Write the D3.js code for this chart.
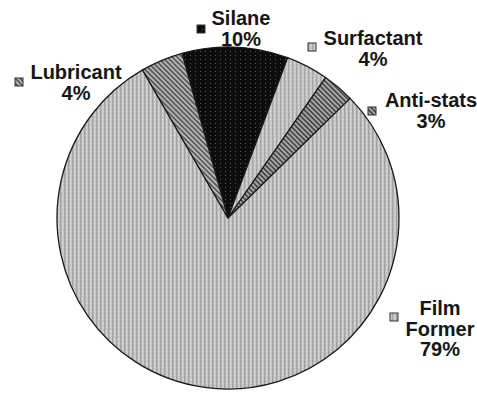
<!DOCTYPE html>
<html lang="en">
<head>
<meta charset="UTF-8">
<title>Pie</title>
<script src="https://cdn.jsdelivr.net/npm/d3@7/dist/d3.min.js"></script>
<style>
  body { margin: 0; background: #fff; }
  text { font-family: "Liberation Sans", Arial, sans-serif; font-weight: bold; fill: #151515; }
</style>
</head>
<body>
<script>
    // data, clockwise from Silane
    const categories = ['Silane', 'Surfactant', 'Anti-stats', 'Film Former', 'Lubricant'];
    const values = [10, 4, 3, 79, 4];
    const labelLines = [['Silane', '10%'], ['Surfactant', '4%'], ['Anti-stats', '3%'], ['Film', 'Former', '79%'], ['Lubricant', '4%']];
    const patterns = ['pSilane', 'pSurf', 'pAnti', 'pFilm', 'pLub'];

    const w = 477, h = 394;
    const cx = 228, cy = 218, r = 171;
    const startAngle = -15.6 * Math.PI / 180;

    const svg = d3.select('body').append('svg')
        .attr('width', w)
        .attr('height', h);

    const defs = svg.append('defs');

    // light grey, vertical dotted texture
    function dotPattern(id, bg, fg, dot) {
        const p = defs.append('pattern').attr('id', id)
            .attr('patternUnits', 'userSpaceOnUse').attr('width', 4).attr('height', 4);
        p.append('rect').attr('width', 4).attr('height', 4).attr('fill', bg);
        p.append('rect').attr('x', 0).attr('width', 1.5).attr('height', 4).attr('fill', fg);
        p.append('rect').attr('x', 2).attr('y', 1).attr('width', 1).attr('height', 1).attr('fill', dot);
    }
    dotPattern('pFilm', '#c8c8c8', '#a3a3a3', '#e2e2e2');
    dotPattern('pSurf', '#c8c8c8', '#a8a8a8', '#e2e2e2');

    // black with faint dots
    const ps = defs.append('pattern').attr('id', 'pSilane')
        .attr('patternUnits', 'userSpaceOnUse').attr('width', 5).attr('height', 4);
    ps.append('rect').attr('width', 5).attr('height', 4).attr('fill', '#0d0d0d');
    ps.append('rect').attr('x', 2).attr('y', 1).attr('width', 1).attr('height', 1).attr('fill', '#555');

    // diagonal hatches
    function hatch(id, bg, fg, size) {
        const p = defs.append('pattern').attr('id', id)
            .attr('patternUnits', 'userSpaceOnUse').attr('width', size).attr('height', size)
            .attr('patternTransform', 'rotate(-45)');
        p.append('rect').attr('width', size).attr('height', size).attr('fill', bg);
        p.append('rect').attr('width', size / 2).attr('height', size).attr('fill', fg);
    }
    hatch('pLub', '#b5b5b5', '#5c5c5c', 3.5);
    hatch('pAnti', '#a8a8a8', '#4a4a4a', 3.5);

    const pie = d3.pie()
        .sort(null)
        .value(d => d)
        .startAngle(startAngle)
        .endAngle(startAngle + 2 * Math.PI);

    const arc = d3.arc().innerRadius(0).outerRadius(r);

    const g = svg.append('g').attr('transform', 'translate(' + cx + ',' + cy + ')');

    g.selectAll('path')
        .data(pie(values))
        .enter()
        .append('path')
        .attr('d', arc)
        .attr('fill', (d, i) => 'url(#' + patterns[i] + ')')
        .attr('stroke', '#1a1a1a')
        .attr('stroke-width', 1.3)
        .attr('stroke-linejoin', 'round');

    // label positions: centre of text block, first baseline, marker
    const labelX = [241, 373, 431, 440, 76];
    const labelY = [25, 45, 107, 315, 79];
    const markerX = [197, 308, 368, 390, 15];
    const markerY = [25, 43, 107, 313, 78];

    const labels = svg.selectAll('g.label')
        .data(categories)
        .enter()
        .append('g')
        .attr('class', 'label');

    labels.append('rect')
        .attr('x', (d, i) => markerX[i])
        .attr('y', (d, i) => markerY[i])
        .attr('width', 8)
        .attr('height', 8)
        .attr('fill', (d, i) => 'url(#' + patterns[i] + ')')
        .attr('stroke', '#333')
        .attr('stroke-width', 1);

    labels.append('text')
        .attr('text-anchor', 'middle')
        .attr('font-size', '20px')
        .attr('x', (d, i) => labelX[i])
        .attr('y', (d, i) => labelY[i])
        .selectAll('tspan')
        .data((d, i) => labelLines[i].map(t => ({t: t, x: labelX[i]})))
        .enter()
        .append('tspan')
        .attr('x', d => d.x)
        .attr('dy', (d, j) => j === 0 ? 0 : 20.5)
        .text(d => d.t);
</script>
</body>
</html>
